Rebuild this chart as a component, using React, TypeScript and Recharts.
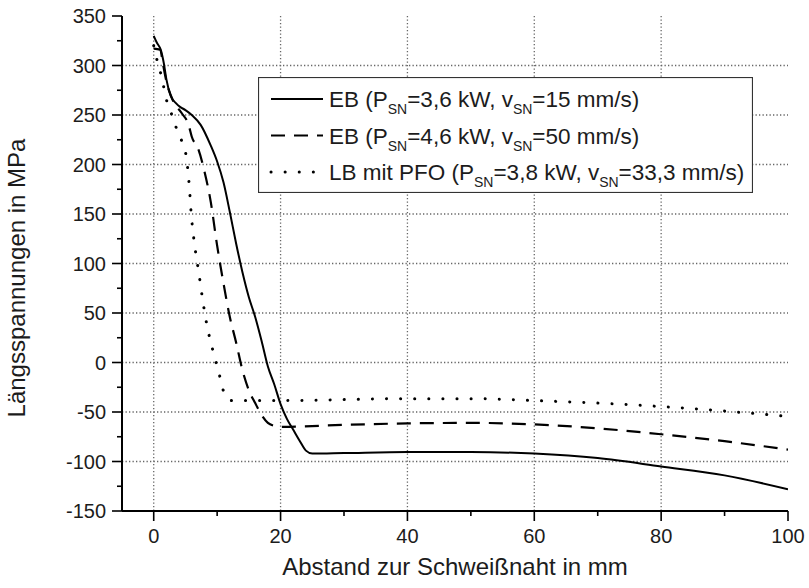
import { LineChart, Line, XAxis, YAxis, CartesianGrid, Legend, Label } from "recharts";

// EB (P_SN=3,6 kW, v_SN=15 mm/s)
const ebSlowX = [0, 0.5, 1.1, 1.6, 2, 2.7, 3.5, 4.2, 5, 6, 7.4, 9, 10, 11, 12, 13, 14, 15, 16, 17, 18, 19, 20, 21, 22, 23, 24, 25, 30, 40, 50, 60, 70, 80, 90, 100];
const ebSlowY = [330, 323, 316, 302, 286, 269, 262, 258, 255, 250, 240, 219, 203, 182, 152, 120, 91, 66, 46, 22, -4, -22, -42, -57, -68, -79, -89, -92, -91.5, -90.5, -90.5, -92, -96.5, -105, -114, -128];

// EB (P_SN=4,6 kW, v_SN=50 mm/s)
const ebFastX = [0, 1, 1.5, 2, 3, 4.4, 5.5, 6, 7, 8, 9, 10, 11, 12, 13, 14, 15, 16, 17, 18, 19, 20, 30, 40, 50, 60, 70, 80, 90, 100];
const ebFastY = [317, 316, 300, 284, 265, 252, 240, 228, 216, 193, 162, 118, 80, 46, 20, -8, -28, -41, -53, -61, -64, -65, -63, -61.5, -61, -62.5, -66.5, -72.5, -79.5, -88];

// LB mit PFO (P_SN=3,8 kW, v_SN=33,3 mm/s)
const lbX = [0, 0.5, 0.9, 1.4, 1.9, 2.7, 3.5, 4.4, 5.1, 5.6, 5.9, 6.4, 7.1, 7.75, 8.5, 9.1, 9.7, 10.3, 10.9, 11.5, 12.3, 20, 30, 40, 50, 60, 70, 80, 90, 100];
const lbY = [320, 306, 297, 284, 268, 253, 238, 224, 209, 179, 151, 121, 91, 62, 34, 18, 3, -11, -27, -35, -38.5, -38.5, -37.5, -36.5, -36.5, -38.5, -41, -44.5, -49, -54.5];

const xTicks = [0, 10, 20, 30, 40, 50, 60, 70, 80, 90, 100];
const yTicks = [-150, -125, -100, -75, -50, -25, 0, 25, 50, 75, 100, 125, 150, 175, 200, 225, 250, 275, 300, 325, 350];
const xGrid = [0, 20, 40, 60, 80];
const yGrid = [-100, -50, 0, 50, 100, 150, 200, 250, 300];

const legendRows = [
  { p: "EB (P", q: "=3,6 kW, v", r: "=15 mm/s)", dash: undefined as string | undefined, cap: "butt" },
  { p: "EB (P", q: "=4,6 kW, v", r: "=50 mm/s)", dash: "14 9", cap: "butt" },
  { p: "LB mit PFO (P", q: "=3,8 kW, v", r: "=33,3 mm/s)", dash: "0.1 14", cap: "round" },
];

const toPoints = (xs: number[], ys: number[]) => xs.map((x, i) => ({ x, y: ys[i] }));

const FONT = "'Liberation Sans', Arial, sans-serif";
const TEXT = "#1c1c1c";

function YTick(props: any) {
  const { x, y, payload } = props;
  const major = payload.value % 50 === 0;
  return (
    <g>
      <line x1={x} x2={x - (major ? 10 : 5)} y1={y} y2={y} stroke="#000" strokeWidth={1.6} />
      {major && (
        <text x={x - 16} y={y + 7} textAnchor="end" fontSize={20} fontFamily={FONT} fill={TEXT}>
          {payload.value}
        </text>
      )}
    </g>
  );
}

function XTick(props: any) {
  const { x, y, payload } = props;
  const major = payload.value % 20 === 0;
  return (
    <g>
      <line x1={x} x2={x} y1={y} y2={y + (major ? 10 : 5)} stroke="#000" strokeWidth={1.6} />
      {major && (
        <text x={x} y={y + 32} textAnchor="middle" fontSize={20} fontFamily={FONT} fill={TEXT}>
          {payload.value}
        </text>
      )}
    </g>
  );
}

function LegendBox() {
  return (
    <svg width={495} height={116} style={{ display: "block" }}>
      <rect x={0.5} y={0.5} width={494} height={115} fill="#fff" stroke="#333" strokeWidth={1.2} />
      {legendRows.map((row, i) => {
        const base = 30 + i * 36.5;
        return (
          <g key={i}>
            <line
              x1={13}
              x2={65}
              y1={base - 8}
              y2={base - 8}
              stroke="#000"
              strokeWidth={row.cap === "round" ? 3 : 2}
              strokeDasharray={row.dash}
              strokeLinecap={row.cap as any}
            />
            <text x={71} y={base} fontSize={22.5} fontFamily={FONT} fill={TEXT}>
              {row.p}
              <tspan fontSize={14} dy={7}>SN</tspan>
              <tspan dy={-7}>{row.q}</tspan>
              <tspan fontSize={14} dy={7}>SN</tspan>
              <tspan dy={-7}>{row.r}</tspan>
            </text>
          </g>
        );
      })}
    </svg>
  );
}

export default function App() {
  return (
    <div style={{ position: "absolute", left: 0, top: 0, width: 809, height: 588, background: "#fff" }}>
      <LineChart width={809} height={588} margin={{ top: 16, right: 21, left: 0, bottom: 0 }}>
        <CartesianGrid
          horizontalValues={yGrid}
          verticalValues={xGrid}
          stroke="#666"
          strokeWidth={1.3}
          strokeDasharray="1.3 2.2"
        />
        <XAxis
          type="number"
          dataKey="x"
          domain={[-5, 100]}
          ticks={xTicks}
          allowDataOverflow
          height={77}
          tickLine={false}
          tickSize={0}
          tickMargin={0}
          tick={<XTick />}
          axisLine={{ stroke: "#000", strokeWidth: 2 }}
          interval={0}
        >
          <Label
            content={() => (
              <text x={455} y={575} textAnchor="middle" fontSize={24} fontFamily={FONT} fill={TEXT}>
                Abstand zur Schweißnaht in mm
              </text>
            )}
          />
        </XAxis>
        <YAxis
          type="number"
          dataKey="y"
          domain={[-150, 350]}
          ticks={yTicks}
          allowDataOverflow
          width={122}
          tickLine={false}
          tickSize={0}
          tickMargin={0}
          tick={<YTick />}
          axisLine={{ stroke: "#000", strokeWidth: 2 }}
          interval={0}
        >
          <Label
            content={() => (
              <text
                x={25}
                y={278}
                transform="rotate(-90 25 278)"
                textAnchor="middle"
                fontSize={24}
                fontFamily={FONT}
                fill={TEXT}
              >
                Längsspannungen in MPa
              </text>
            )}
          />
        </YAxis>
        <Legend
          layout="vertical"
          align="center"
          verticalAlign="middle"
          wrapperStyle={{ left: 258, top: 77, width: 495, height: 116 }}
          content={() => <LegendBox />}
        />
        <Line
          data={toPoints(ebSlowX, ebSlowY)}
          dataKey="y"
          type="monotoneX"
          stroke="#000"
          strokeWidth={2}
          dot={false}
          isAnimationActive={false}
        />
        <Line
          data={toPoints(ebFastX, ebFastY)}
          dataKey="y"
          type="monotoneX"
          stroke="#000"
          strokeWidth={2.2}
          strokeDasharray="14 9"
          dot={false}
          isAnimationActive={false}
        />
        <Line
          data={toPoints(lbX, lbY)}
          dataKey="y"
          type="monotoneX"
          stroke="#000"
          strokeWidth={3}
          strokeDasharray="0.1 14"
          strokeLinecap="round"
          dot={false}
          isAnimationActive={false}
        />
      </LineChart>
    </div>
  );
}
